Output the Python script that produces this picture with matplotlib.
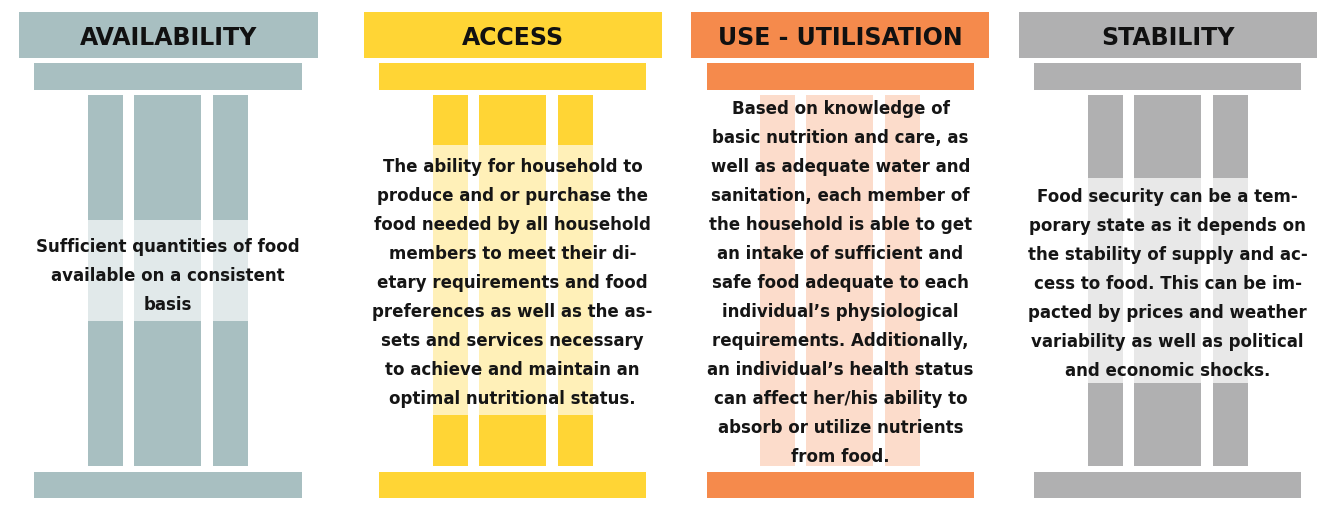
import matplotlib.pyplot as plt
from matplotlib.patches import Rectangle

# pillar content
titles = ["AVAILABILITY", "ACCESS", "USE - UTILISATION", "STABILITY"]
descriptions = [
    ["Sufficient quantities of food", "available on a consistent", "basis"],
    ["The ability for household to", "produce and or purchase the",
     "food needed by all household", "members to meet their di-",
     "etary requirements and food", "preferences as well as the as-",
     "sets and services necessary", "to achieve and maintain an",
     "optimal nutritional status."],
    ["Based on knowledge of", "basic nutrition and care, as",
     "well as adequate water and", "sanitation, each member of",
     "the household is able to get", "an intake of sufficient and",
     "safe food adequate to each", "individual\u2019s physiological",
     "requirements. Additionally,", "an individual\u2019s health status",
     "can affect her/his ability to", "absorb or utilize nutrients",
     "from food."],
    ["Food security can be a tem-", "porary state as it depends on",
     "the stability of supply and ac-", "cess to food. This can be im-",
     "pacted by prices and weather", "variability as well as political",
     "and economic shocks."],
]
main_colors = ["#A8BFC1", "#FFD535", "#F58A4C", "#B0B0B1"]
light_colors = ["#E1E9EA", "#FFF0B8", "#FCDCCB", "#E8E8E8"]

# layout (pixels)
header_x = [(19, 318), (364, 662), (691, 989), (1019, 1317)]
slab_x = [(34, 302), (379, 646), (707, 974), (1034, 1301)]
col_left = [88, 433, 760, 1088]
band_y = [(220, 321), (145, 415), (95, 466), (178, 383)]
text_y = [274, 281, 281, 282]
line_step = 29

fig = plt.figure(figsize=(13.35, 5.05), dpi=100)
ax = fig.add_axes([0, 0, 1, 1])
ax.set_xlim(0, 1335)
ax.set_ylim(505, 0)
ax.axis("off")

font = ["DejaVu Sans"]

for i in range(4):
    c, lc = main_colors[i], light_colors[i]
    hx0, hx1 = header_x[i]
    ax.add_patch(Rectangle((hx0, 12), hx1 - hx0, 46, color=c, lw=0))
    ax.text((hx0 + hx1) / 2, 38, titles[i], ha="center", va="center",
            fontsize=17, fontweight="bold", family=font, color="#111111")
    sx0, sx1 = slab_x[i]
    ax.add_patch(Rectangle((sx0, 63), sx1 - sx0, 27, color=c, lw=0))
    ax.add_patch(Rectangle((sx0, 472), sx1 - sx0, 26, color=c, lw=0))
    x0 = col_left[i]
    cols = [(x0, 35), (x0 + 46, 67), (x0 + 125, 35)]
    by0, by1 = band_y[i]
    for cx, cw in cols:
        ax.add_patch(Rectangle((cx, 95), cw, 371, color=c, lw=0))
        ax.add_patch(Rectangle((cx, by0), cw, by1 - by0, color=lc, lw=0))
    lines = descriptions[i]
    n = len(lines)
    for k, line in enumerate(lines):
        y = text_y[i] + (k - (n - 1) / 2) * line_step
        ax.text((sx0 + sx1) / 2, y, line, ha="center", va="center_baseline",
                fontsize=12, fontweight="bold", family=font, color="#151515")

fig.savefig("out.png", dpi=100)
